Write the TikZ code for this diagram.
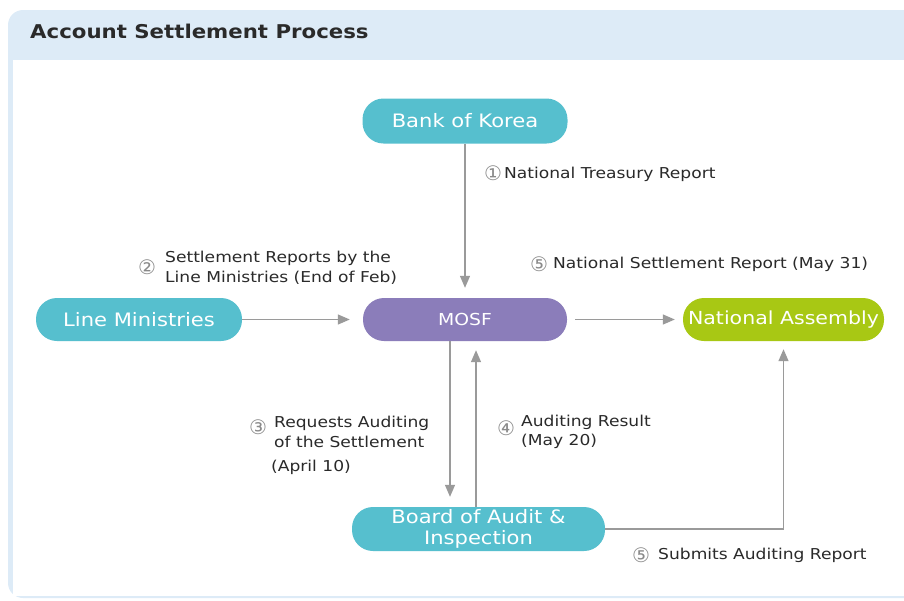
\documentclass[tikz,border=0pt]{standalone}
\usepackage{fontspec}
\setmainfont{DejaVu Sans}
\newfontfamily\widefont{DejaVu Sans}[FakeStretch=1.14]
\newfontfamily\titlefont{DejaVu Sans}[FakeStretch=1.12]
\usetikzlibrary{arrows.meta}
\definecolor{hdr}{HTML}{DDEBF7}
\definecolor{tealc}{HTML}{56BFCE}
\definecolor{purp}{HTML}{8B7DBA}
\definecolor{lime}{HTML}{A8C814}
\definecolor{lnc}{HTML}{9A9A9A}
\definecolor{txt}{HTML}{2A2A2A}
\definecolor{circ}{HTML}{8A8A8A}
\tikzset{
  pill/.style={rectangle, rounded corners=21pt, text=white, inner sep=0pt,
    font=\widefont\fontsize{18.5}{21}\selectfont, align=center},
  arr/.style={draw=lnc, line width=1.3pt, -{Triangle[length=12pt,width=10pt]}},
  lbl/.style={text=txt, inner sep=0pt, anchor=west, align=left,
    font=\widefont\fontsize{15}{19.5}\selectfont},
  cnum/.style={text=circ, inner sep=0pt, font=\fontsize{20}{20}\selectfont},
}
\begin{document}
\begin{tikzpicture}[x=1pt,y=-1pt]
\useasboundingbox (0,0) rectangle (904,600);
% frame
\fill[hdr, rounded corners=15pt] (8,10) rectangle (930,598);
\fill[white] (13,60) rectangle (910,596);
\node[anchor=west, inner sep=0pt, text=txt, font=\titlefont\bfseries\fontsize{19}{22}\selectfont] (title) at (30,31) {Account Settlement Process};
% nodes
\node[pill, fill=tealc, minimum width=205pt, minimum height=45pt] (bok) at (465,121) {Bank of Korea};
\node[pill, fill=tealc, minimum width=206pt, minimum height=43pt] (lm) at (139,319.5) {Line Ministries};
\node[pill, fill=purp, minimum width=204pt, minimum height=43pt, font=\widefont\fontsize{16.5}{18}\selectfont] (mosf) at (465,319.5) {MOSF};
\node[pill, fill=lime, minimum width=201pt, minimum height=43pt, font=\widefont\fontsize{18}{21}\selectfont] (na) at (783.5,319.5) {National Assembly};
\node[pill, fill=tealc, minimum width=253pt, minimum height=44pt] (bai) at (478.5,529) {Board of Audit \&\\Inspection};
% arrows
\draw[arr, shorten >=10pt] (bok) -- (mosf);
\draw[arr, shorten >=13pt] (lm) -- (mosf);
\draw[arr, shorten <=8pt, shorten >=8pt] (mosf) -- (na);
\draw[arr, shorten >=10pt] ([xshift=-15pt]mosf.south) -- ([xshift=-15pt]mosf.south |- bai.north);
\draw[arr, shorten >=9pt] ([xshift=-2.5pt]bai.north) -- ([xshift=-2.5pt]bai.north |- mosf.south);
\draw[arr, shorten >=8pt] (bai.east) -| (na.south);
% labels
\node[cnum] (c1) at (493,173) {①};
\node[lbl] (l1) at (504,174) {National Treasury Report};
\node[cnum] (c2) at (147,267) {②};
\node[lbl] (l2) at (165,268) {Settlement Reports by the\\Line Ministries (End of Feb)};
\node[cnum] (c5a) at (539,264) {⑤};
\node[lbl] (l5a) at (553,264) {National Settlement Report (May 31)};
\node[cnum] (c3) at (258,427) {③};
\node[lbl] (l3) at (274,432) {Requests Auditing\\of the Settlement};
\node[lbl] (l3b) at (271,467) {(April 10)};
\node[cnum] (c4) at (506,428) {④};
\node[lbl] (l4) at (521,432) {Auditing Result\\(May 20)};
\node[cnum] (c5b) at (641,555) {⑤};
\node[lbl] (l5b) at (658,555) {Submits Auditing Report};
\end{tikzpicture}
\end{document}
